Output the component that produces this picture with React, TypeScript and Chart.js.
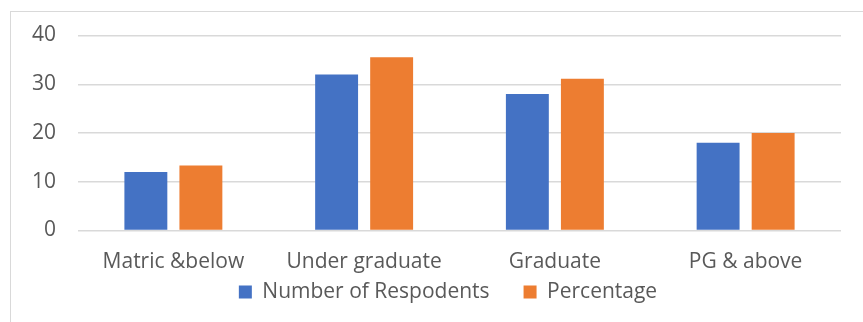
import React, { useEffect, useRef } from "react";
import { Chart, registerables } from "chart.js";

Chart.register(...registerables);

const categories = ["Matric &below", "Under graduate", "Graduate", "PG & above"];
const respondents = [12, 32, 28, 18];
const percentage = [13.33, 35.56, 31.11, 20];
const yTicks = [0, 10, 20, 30, 40];

const FONT = "'Open Sans', sans-serif";
const TEXT = "#595959";
const LEGEND_GAP = 34;

// Keeps the wide gap between legend items while pulling the legend row up
// under the category labels and nudging it right.
const legendPlacement = {
  id: "legendPlacement",
  afterLayout(chart: any) {
    const lg = chart.legend;
    if (!lg) return;
    const dy = -47;
    const dx = 22;
    lg.top += dy;
    lg.bottom = chart.height;
    lg.left += dx;
    lg.right += dx;
  },
};

export default function App() {
  const ref = useRef<HTMLCanvasElement | null>(null);

  useEffect(() => {
    if (!ref.current) return;
    const chart = new Chart(ref.current, {
      type: "bar",
      data: {
        labels: categories,
        datasets: [
          {
            label: "Number of Respodents",
            data: respondents,
            backgroundColor: "#4472C4",
            categoryPercentage: 0.577,
            barPercentage: 0.78,
          },
          {
            label: "Percentage",
            data: percentage,
            backgroundColor: "#ED7D31",
            categoryPercentage: 0.577,
            barPercentage: 0.78,
          },
        ],
      },
      plugins: [legendPlacement],
      options: {
        animation: false,
        responsive: false,
        maintainAspectRatio: false,
        layout: { padding: { top: 23.5, right: 22, bottom: 0, left: 0 } },
        plugins: {
          tooltip: { enabled: false },
          legend: {
            position: "bottom",
            maxHeight: 27.5,
            labels: {
              boxWidth: 13,
              boxHeight: 13,
              padding: LEGEND_GAP,
              color: TEXT,
              font: { family: FONT, size: 21 },
            },
          },
        },
        scales: {
          x: {
            grid: { display: false, drawTicks: false },
            border: { display: false },
            ticks: {
              color: TEXT,
              padding: 19.4,
              maxRotation: 0,
              font: { family: FONT, size: 21 },
            },
          },
          y: {
            min: 0,
            max: 40,
            afterBuildTicks: (axis: any) => {
              axis.ticks = yTicks.map((v) => ({ value: v }));
            },
            afterFit: (axis: any) => {
              axis.width = 67;
              axis.paddingTop = 0;
              axis.paddingBottom = 0;
            },
            grid: { color: "#d9d9d9", lineWidth: 1.4, drawTicks: false },
            border: { display: false },
            ticks: {
              color: TEXT,
              padding: 22,
              font: { family: FONT, size: 21 },
            },
          },
        },
      },
    });
    return () => chart.destroy();
  }, []);

  return (
    <div
      style={{
        position: "absolute",
        left: 10,
        top: 11,
        width: 853,
        height: 311,
        borderLeft: "1.5px solid #d9d9d9",
        borderTop: "1.5px solid #d9d9d9",
        background: "#fff",
      }}
    >
      <canvas ref={ref} width={852} height={310} style={{ display: "block" }} />
    </div>
  );
}
